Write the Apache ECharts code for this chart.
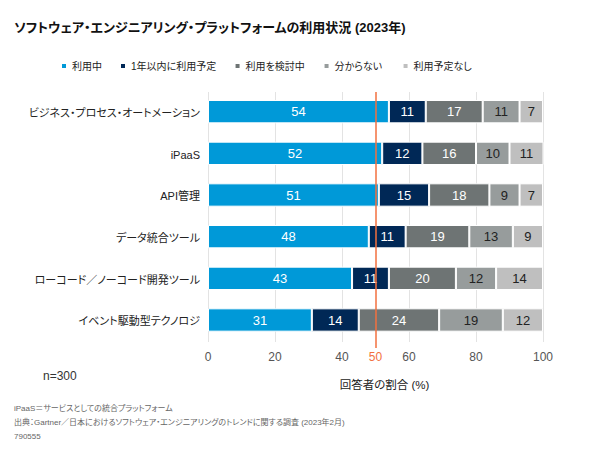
<!DOCTYPE html>
<html><head><meta charset="utf-8">
<script src="https://cdn.jsdelivr.net/npm/echarts@6/dist/echarts.min.js"></script>
<style>html,body{margin:0;padding:0;background:#fff}#c{width:590px;height:452px}
#c svg text{font-feature-settings:"palt" 1;}</style>
</head><body><div id="c"></div>
<script>
const categories = ["ビジネス・プロセス・オートメーション","iPaaS","API管理","データ統合ツール","ローコード／ノーコード開発ツール","イベント駆動型テクノロジ"];
const seriesNames = ["利用中","1年以内に利用予定","利用を検討中","分からない","利用予定なし"];
const inUse = [54,52,51,48,43,31];
const within1Year = [11,12,15,11,11,14];
const considering = [17,16,18,19,20,24];
const unknown = [11,10,9,13,12,19];
const noPlan = [7,11,7,9,14,12];
const xTicks = [0,20,40,60,80,100];
const refValue = 50;

const FONT = '"Liberation Sans", "Noto Sans CJK JP", sans-serif';
const colors = ['#0099D8','#002856','#6E7474','#979C9C','#BFBFBF'];
const labelColors = ['#fff','#fff','#fff','#222','#222'];
const values = [inUse, within1Year, considering, unknown, noPlan];

const series = values.map((v,i)=>({
  name: seriesNames[i], type:'bar', stack:'t', data:v, barWidth:'56%',
  itemStyle:{color:colors[i], borderColor:'#fff', borderWidth:1},
  label:{show:true, position:'inside', color:labelColors[i], fontSize:13, fontFamily:FONT},
  emphasis:{disabled:true}
}));
series.push({
  type:'bar', xAxisIndex:0, data:[], silent:true,
  markLine:{silent:true, symbol:'none', label:{show:false},
    lineStyle:{color:'#F2703F', width:1.5, type:'solid'},
    data:[{xAxis:refValue}]}
});

const chart = echarts.init(document.getElementById('c'), null, {renderer:'svg'});
chart.setOption({
  animation:false,
  textStyle:{fontFamily:FONT},
  title:{text:'ソフトウェア・エンジニアリング・プラットフォームの利用状況 (2023年)', left:9, top:16,
    textStyle:{fontSize:13, fontWeight:'bold', color:'#111', fontFamily:FONT}},
  legend:{left:60, top:61, padding:0, itemWidth:6, itemHeight:6, itemGap:17, icon:'rect',
    textStyle:{fontSize:10, color:'#222', fontFamily:FONT}, data:seriesNames},
  grid:{left:208, right:47, top:92, height:250, outerBoundsMode:'none', containLabel:false},
  xAxis:[{
    type:'value', min:0, max:100, interval:20,
    axisLine:{show:false}, axisTick:{show:false},
    splitLine:{lineStyle:{color:'#E3E3E3'}},
    axisLabel:{color:'#555', fontSize:12, margin:9, fontFamily:FONT},
    name:'回答者の割合 (%)', nameLocation:'middle', nameGap:37,
    nameTextStyle:{color:'#222', fontSize:11.5, fontFamily:FONT, padding:[0,0,0,18]}
  },{
    type:'value', min:0, max:100, position:'bottom', gridIndex:0,
    axisLine:{show:false}, splitLine:{show:false},
    axisTick:{show:true, length:6, customValues:[refValue], lineStyle:{color:'#F2703F', width:1.5}},
    axisLabel:{customValues:[refValue], color:'#F2703F', fontSize:12, margin:9, fontFamily:FONT}
  }],
  yAxis:{type:'category', data:categories, inverse:true,
    axisLine:{show:false}, axisTick:{show:false},
    axisLabel:{color:'#222', fontSize:11, margin:8, fontFamily:FONT}},
  series:series,
  graphic:[
    {type:'text', left:43, top:370, style:{text:'n=300', fontSize:12, fill:'#333', fontFamily:FONT}},
    {type:'text', left:14, top:404, style:{text:'iPaaS＝サービスとしての統合プラットフォーム', fontSize:8, fill:'#666', fontFamily:FONT}},
    {type:'text', left:14, top:418, style:{text:'出典：Gartner／日本におけるソフトウェア・エンジニアリングのトレンドに関する調査 (2023年2月)', fontSize:8, fill:'#666', fontFamily:FONT}},
    {type:'text', left:14, top:432, style:{text:'790555', fontSize:8, fill:'#666', fontFamily:FONT}}
  ]
});
</script></body></html>
